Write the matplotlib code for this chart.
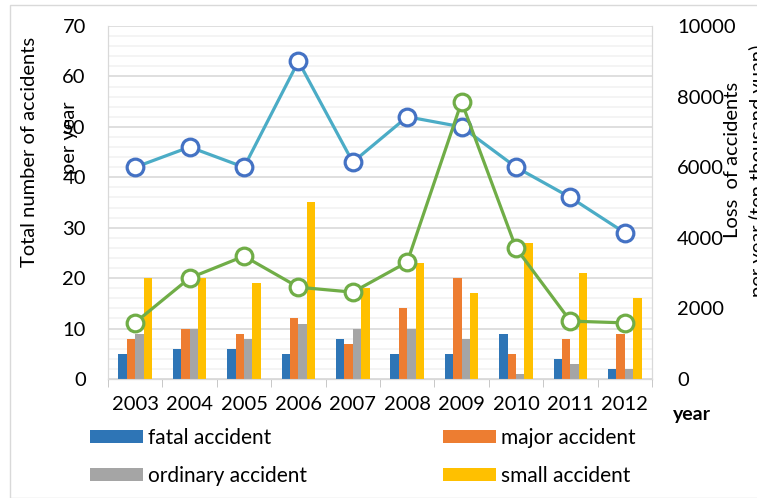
import matplotlib.pyplot as plt
import numpy as np
from matplotlib.patches import Rectangle

plt.rcParams['font.family'] = ['Lato', 'DejaVu Sans']

years = ['2003', '2004', '2005', '2006', '2007', '2008', '2009', '2010', '2011', '2012']
fatal = [5, 6, 6, 5, 8, 5, 5, 9, 4, 2]
major = [8, 10, 9, 12, 7, 14, 20, 5, 8, 9]
ordinary = [9, 10, 8, 11, 10, 10, 8, 1, 3, 2]
small = [20, 20, 19, 35, 18, 23, 17, 27, 21, 16]
total = [42, 46, 42, 63, 43, 52, 50, 42, 36, 29]
loss = [1600, 2860, 3480, 2600, 2460, 3310, 7850, 3710, 1640, 1590]

fig = plt.figure(figsize=(7.57, 4.98), dpi=100)
fig.patches.append(Rectangle((10 / 757, 0), 1, 1 - 5 / 498, transform=fig.transFigure,
                             fill=False, edgecolor='#D9D9D9', lw=1))
ax = fig.add_axes([108 / 757, 1 - 379 / 498, (652 - 108) / 757, (379 - 26) / 498])
ax2 = ax.twinx()

x = np.arange(len(years))
w = 0.155
cols = ['#2E75B6', '#ED7D31', '#A5A5A5', '#FFC000']
names = ['fatal accident', 'major accident', 'ordinary accident', 'small accident']
bars = []
for i, (vals, c) in enumerate(zip([fatal, major, ordinary, small], cols)):
    bars.append(ax.bar(x + (i - 1.5) * w, vals, w, color=c, zorder=3))

ax.plot(x, total, color='#4BACC6', lw=2.3, marker='o', ms=12, mfc='white',
        mec='#4472C4', mew=2.3, zorder=5)
ax2.plot(x, loss, color='#70AD47', lw=2.3, marker='o', ms=12, mfc='white',
         mec='#70AD47', mew=2.3, zorder=5)

ax.set_xlim(-0.5, 9.5)
ax.set_ylim(0, 70)
ax2.set_ylim(0, 10000)
ax.set_yticks(np.arange(0, 71, 10))
ax.set_yticks(np.arange(0, 71, 2), minor=True)
ax2.set_yticks(np.arange(0, 10001, 2000))
ax.grid(axis='y', which='major', color='#D9D9D9', lw=1.2, zorder=0)
ax.grid(axis='y', which='minor', color='#F2F2F2', lw=1.2, zorder=0)
ax.set_axisbelow(True)

fs = 14.5
ax.set_xticks(x)
ax.set_xticklabels(years, fontsize=fs)
ax.set_xticks(np.arange(-0.5, 10, 1), minor=True)
ax.tick_params(axis='x', which='major', length=0, pad=12)
ax.tick_params(axis='x', which='minor', length=6, color='#BFBFBF')
ax.tick_params(axis='y', which='both', length=0, labelsize=fs, pad=16)
ax2.tick_params(axis='y', length=0, labelsize=fs, pad=18)

for a in (ax, ax2):
    a.spines['top'].set_visible(False)
    for s in ('left', 'right', 'bottom'):
        a.spines[s].set_color('#D9D9D9')
ax.spines['bottom'].set_color('#BFBFBF')

# axis titles, placed line by line like the original
fig.text(30 / 757, 1 - 152 / 498, 'Total number of accidents', rotation=90,
         ha='center', va='center', fontsize=fs)
fig.text(70 / 757, 1 - 138 / 498, 'per year', rotation=90,
         ha='center', va='center', fontsize=fs)
fig.text(733 / 757, 1 - 160 / 498, 'Loss  of accidents', rotation=90,
         ha='center', va='center', fontsize=fs)
fig.text(758 / 757, 1 - 171 / 498, 'per year (ten thousand yuan)', rotation=90,
         ha='center', va='center', fontsize=fs)
fig.text(692 / 757, 1 - 414 / 498, 'year', fontsize=14, fontweight='bold', ha='center', va='center')

order = [0, 2, 1, 3]
fig.legend([bars[i] for i in order], [names[i] for i in order], ncol=2,
           loc='upper left', bbox_to_anchor=(90 / 757, 1 - 428 / 498), frameon=False,
           borderpad=0, borderaxespad=0,
           fontsize=15, handlelength=2.55, handleheight=0.55, columnspacing=6.5,
           labelspacing=0.85, handletextpad=0.25)

fig.savefig('out.png', dpi=100)
